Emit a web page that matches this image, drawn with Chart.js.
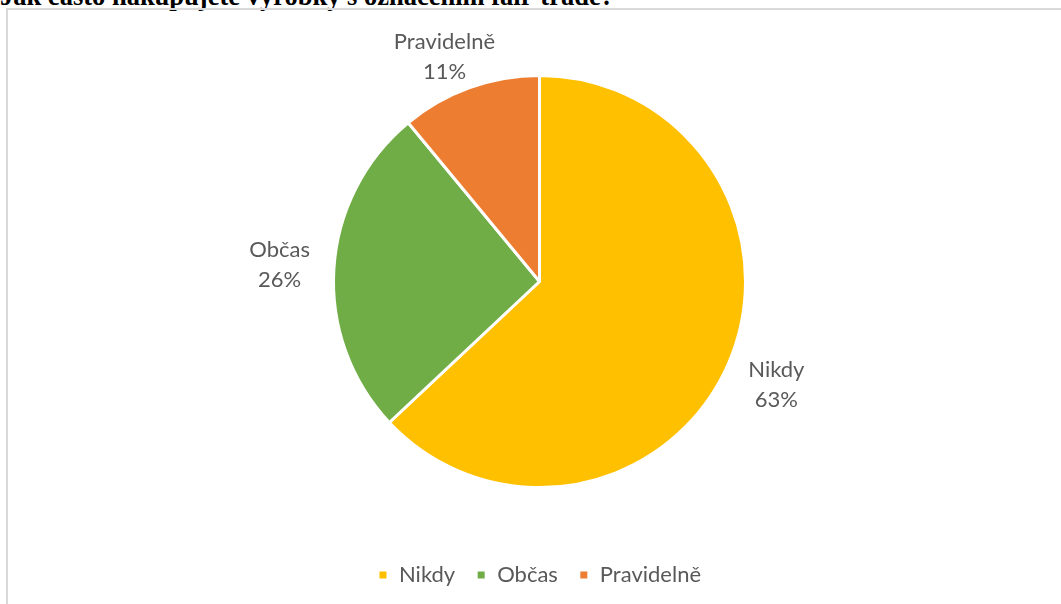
<!DOCTYPE html>
<html lang="cs">
<head>
<meta charset="utf-8">
<title>Nákup fair-trade výrobků</title>
<script src="https://cdn.jsdelivr.net/npm/chart.js@4.4.1/dist/chart.umd.min.js"></script>
<style>
  html, body { margin: 0; padding: 0; background: #fff; overflow: hidden; }
  body { width: 1061px; height: 604px; position: relative; }
  #title {
    position: absolute; left: 0; top: -19px; white-space: nowrap;
    font: bold 26.5px "Liberation Serif", "Times New Roman", serif; color: #000;
  }
  #frame {
    position: absolute; left: 6px; top: 8px; width: 1100px; height: 700px;
    border: 2px solid #d9d9d9; box-sizing: border-box;
  }
  #canvas { position: absolute; left: 0; top: 0; }
</style>
</head>
<body>
<div id="title">Jak často nakupujete výrobky s označením fair-trade?</div>
<div id="frame"></div>
<canvas id="canvas" width="1061" height="604"></canvas>
<script>
"use strict";

const labels = ["Nikdy", "Občas", "Pravidelně"];
const shares = [63, 26, 11];
const colors = ["#FFC000", "#70AD47", "#ED7D31"];

const textColor = "#595959";
const fontFamily = 'Lato, "Open Sans", sans-serif';
const fontSize = 22;

// Popisky kategorií a procent vně výsečí
const outsideLabels = {
  id: "outsideLabels",
  afterDatasetsDraw(chart) {
    const ctx = chart.ctx;
    const meta = chart.getDatasetMeta(0);
    const total = shares.reduce((a, b) => a + b, 0);
    ctx.save();
    ctx.font = fontSize + "px " + fontFamily;
    ctx.fillStyle = textColor;
    ctx.textAlign = "center";
    ctx.textBaseline = "middle";
    const lineH = 30;
    meta.data.forEach((arc, i) => {
      const p = arc.getProps(["x", "y", "startAngle", "endAngle", "outerRadius"], true);
      const mid = (p.startAngle + p.endAngle) / 2;
      const lines = [labels[i], Math.round(shares[i] / total * 100) + "%"];
      const w = Math.max(...lines.map(t => ctx.measureText(t).width));
      const h = lines.length * lineH;
      const r = p.outerRadius + 24;
      let cx = p.x + Math.cos(mid) * r + Math.cos(mid) * w / 2;
      let cy = p.y + Math.sin(mid) * r + Math.sin(mid) * h / 2;
      // nepustit popisek nad horní okraj
      cy = Math.max(cy, 57);
      lines.forEach((t, k) => {
        ctx.fillText(t, cx, cy - h / 2 + lineH / 2 + k * lineH);
      });
    });
    ctx.restore();
  }
};

const ctx = document.getElementById("canvas").getContext("2d");
new Chart(ctx, {
  type: "pie",
  data: {
    labels: labels,
    datasets: [{
      data: shares,
      backgroundColor: colors,
      borderColor: "#ffffff",
      borderWidth: 3
    }]
  },
  options: {
    responsive: false,
    animation: false,
    layout: { padding: { top: 20, left: 332, right: 314, bottom: 8 } },
    plugins: {
      legend: {
        position: "bottom",
        labels: {
          boxWidth: 10,
          boxHeight: 10,
          padding: 21,
          color: textColor,
          font: { family: fontFamily, size: fontSize }
        }
      },
      tooltip: { enabled: false }
    }
  },
  plugins: [outsideLabels]
});
</script>
</body>
</html>
